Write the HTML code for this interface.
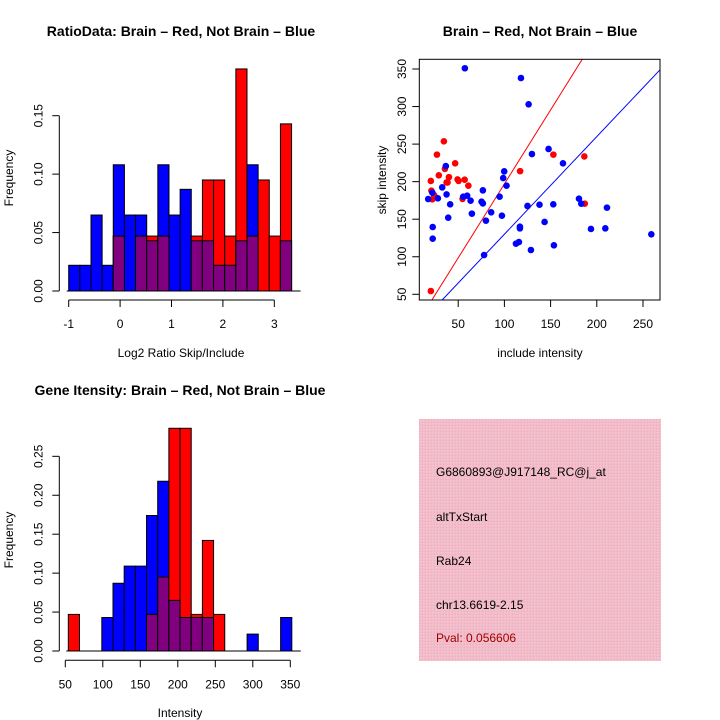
<!DOCTYPE html>
<html><head><meta charset="utf-8"><style>
body{margin:0;background:#fff}
svg{display:block;font-family:"Liberation Sans",sans-serif}
</style></head><body>
<svg id="s" width="720" height="720" xmlns="http://www.w3.org/2000/svg">
<defs>
<pattern id="pk" width="3" height="3" patternUnits="userSpaceOnUse"><rect width="3" height="3" fill="#f2bccb"/><rect width="1" height="1" fill="#e7cdd2"/><rect x="2" y="2" width="1" height="1" fill="#f7a8bb"/></pattern>
</defs>
<g id="h1"></g>
<g id="sc"></g>
<g id="h2"></g>
<g>
<rect x="419" y="419" width="242" height="242" fill="url(#pk)"/>
<g font-size="12" fill="#000">
<text x="436" y="476">G6860893@J917148_RC@j_at</text>
<text x="436" y="521">altTxStart</text>
<text x="436" y="565">Rab24</text>
<text x="436" y="609">chr13.6619-2.15</text>
<text x="436" y="642" fill="#a00000">Pval: 0.056606</text>
</g></g>
</svg>
<script>
// Ratio histogram data
const h1Start=-1, h1Width=0.2168;
const h1Blue=[0.022,0.022,0.065,0.022,0.108,0.065,0.065,0.043,0.108,0.065,0.087,0.043,0.043,0.022,0.022,0.043,0.108,0,0,0.043];
const h1Red=[0,0,0,0,0.047,0,0.047,0.047,0.047,0,0,0.047,0.095,0.095,0.047,0.19,0.047,0.095,0.047,0.143];
const h1XTicks=[-1,0,1,2,3];
const h1YTicks=[0,0.05,0.10,0.15];
const h1YLabels=["0.00","0.05","0.10","0.15"];
// Gene intensity histogram data
const h2Start=54, h2Width=14.9;
const h2Blue=[0,0,0,0.043,0.087,0.109,0.109,0.174,0.218,0.065,0.043,0.043,0.043,0,0,0,0.0217,0,0,0.043];
const h2Red=[0.047,0,0,0,0,0,0,0.047,0.095,0.286,0.286,0.047,0.142,0.047,0,0,0,0,0,0];
const h2XTicks=[50,100,150,200,250,300,350];
const h2YTicks=[0,0.05,0.10,0.15,0.20,0.25];
const h2YLabels=["0.00","0.05","0.10","0.15","0.20","0.25"];
// Scatter data
const redX=[20.4,20.4,21,22,24,27,34.5,35.6,29,37.4,40,46.7,49.3,50.4,54.7,57,61,117,153,186.5,187,38.5];
const redY=[54.4,200.9,188,176.5,182,236,253.7,217,208.4,199,206,224.4,203,201,177,202.6,194.6,214,236,233.6,170.7,199];
const blueX=[17.5,22,22.4,22.4,28,32.7,36.6,37.4,39.2,41.3,57.2,55.4,59.7,63.4,64.8,75.3,76.7,76.7,80,78,85.7,94.8,97.3,98.7,99.8,102.3,112.5,115.7,116.8,116.8,117.9,125,126.2,128.7,129.8,138,143.5,147.8,152.9,153.6,163.4,180.7,183.2,193.7,209.2,211,259];
const blueY=[176.9,185.3,139.6,124,177.8,192.4,220.8,183,152,169.8,351,180,181.3,174.7,157.4,173.3,171,188.4,148,102.3,159.2,180,154.7,204.8,213.7,194.6,117.4,119.6,140,137.8,338,167.6,303,109,236.8,169.3,146.3,243.5,169.8,115.2,224.4,177.3,170.7,137,137.8,165.4,129.9];
const redSlope=1.97, blueSlope=1.30;
const scXTicks=[50,100,150,200,250];
const scYTicks=[50,100,150,200,250,300,350];

const NS="http://www.w3.org/2000/svg";
function mk(p,t,a){const e=document.createElementNS(NS,t);for(const k in a)e.setAttribute(k,a[k]);p.appendChild(e);return e;}

function hist(g,o){
  const sx=v=>o.x0+(v-o.d0)*o.kx, sy=v=>o.y0-v*o.ky;
  for(let i=0;i<o.blue.length;i++){
    const a=o.start+i*o.w,b=a+o.w;
    const x=sx(a),w=sx(b)-sx(a);
    const bl=o.blue[i],rd=o.red[i],mn=Math.min(bl,rd);
    if(bl>0){const r=mk(g,'rect',{x:x,y:sy(bl),width:w,height:sy(0)-sy(bl),fill:'#0000ff',stroke:'#000','stroke-width':1});
      
      }
    if(rd>0){const r=mk(g,'rect',{x:x,y:sy(rd),width:w,height:sy(0)-sy(rd),fill:'#ff0000',stroke:'#000','stroke-width':1});
      
      }
    if(mn>0){const r=mk(g,'rect',{x:x,y:sy(mn),width:w,height:sy(0)-sy(mn),fill:'#800080',stroke:'#000','stroke-width':1});
      
      }
  }
  // baseline
  mk(g,'line',{x1:sx(o.start)-2,x2:sx(o.start+o.w*o.blue.length)+9,y1:sy(0),y2:sy(0),stroke:'#000'});
  // y axis
  const ya=o.yTicks;
  mk(g,'line',{x1:o.yax,x2:o.yax,y1:sy(ya[0]),y2:sy(ya[ya.length-1]),stroke:'#000'});
  ya.forEach((v,i)=>{mk(g,'line',{x1:o.yax-7,x2:o.yax,y1:sy(v),y2:sy(v),stroke:'#000'});
    const t=mk(g,'text',{x:o.yax-17,y:sy(v),'font-size':12,'text-anchor':'middle',transform:`rotate(-90 ${o.yax-17} ${sy(v)})`});
    t.textContent=o.yLabels[i];
    
    });
  const xt=o.xTicks;
  mk(g,'line',{x1:sx(xt[0]),x2:sx(xt[xt.length-1]),y1:o.xax,y2:o.xax,stroke:'#000'});
  xt.forEach(v=>{mk(g,'line',{x1:sx(v),x2:sx(v),y1:o.xax,y2:o.xax+7,stroke:'#000'});
    const t=mk(g,'text',{x:sx(v),y:o.xax+28,'font-size':12,'text-anchor':'middle'});
    t.textContent=String(v);
    
    });
}
const h1=document.getElementById('h1');
hist(h1,{x0:68.7,d0:-1,kx:51.4,y0:291,ky:1168.7,start:h1Start,w:h1Width,blue:h1Blue,red:h1Red,yTicks:h1YTicks,yLabels:h1YLabels,xTicks:h1XTicks,yax:59.3,xax:300});
const h2=document.getElementById('h2');
hist(h2,{x0:65.3,d0:50,kx:0.75,y0:651,ky:778.7,start:h2Start,w:h2Width,blue:h2Blue,red:h2Red,yTicks:h2YTicks,yLabels:h2YLabels,xTicks:h2XTicks,yax:59.3,xax:660.3});

// scatter
const sc=document.getElementById('sc');
const px=v=>412+v*0.924, py=v=>294.3-(v-50)*0.751;
mk(sc,'defs',{}).innerHTML='<clipPath id="cp"><rect x="419.3" y="59.3" width="240.7" height="240.7"/></clipPath>';
const lg=mk(sc,'g',{'clip-path':'url(#cp)'});
let l=mk(lg,'line',{x1:px(0),y1:py(0),x2:px(300),y2:py(300*redSlope),stroke:'#ff0000','stroke-width':1});


l=mk(lg,'line',{x1:px(0),y1:py(0),x2:px(300),y2:py(300*blueSlope),stroke:'#0000ff','stroke-width':1});


redX.forEach((v,i)=>{const c=mk(lg,'circle',{cx:px(v),cy:py(redY[i]),r:3.3,fill:'#ff0000'});
  
  });
blueX.forEach((v,i)=>{const c=mk(lg,'circle',{cx:px(v),cy:py(blueY[i]),r:3.3,fill:'#0000ff'});
  
  });
mk(sc,'rect',{x:419.3,y:59.3,width:240.7,height:240.7,fill:'none',stroke:'#000'});
scXTicks.forEach(v=>{mk(sc,'line',{x1:px(v),x2:px(v),y1:300,y2:307,stroke:'#000'});
  const t=mk(sc,'text',{x:px(v),y:328,'font-size':12,'text-anchor':'middle'});t.textContent=v;
  
  });
scYTicks.forEach(v=>{mk(sc,'line',{x1:412.3,x2:419.3,y1:py(v),y2:py(v),stroke:'#000'});
  const t=mk(sc,'text',{x:406,y:py(v),'font-size':12,'text-anchor':'middle',transform:`rotate(-90 406 ${py(v)})`});t.textContent=v;
  
  });
</script>
<svg width="720" height="720" style="position:absolute;left:0;top:0" xmlns="http://www.w3.org/2000/svg">
<g font-weight="bold" font-size="14" text-anchor="middle">
<text x="181" y="36">RatioData: Brain – Red, Not Brain – Blue</text>
<text x="540" y="36">Brain – Red, Not Brain – Blue</text>
<text x="180" y="395">Gene Itensity: Brain – Red, Not Brain – Blue</text>
</g>
<g font-size="12" text-anchor="middle">
<text x="181" y="357">Log2 Ratio Skip/Include</text>
<text x="540" y="357">include intensity</text>
<text x="180" y="717">Intensity</text>
<text x="13" y="178" transform="rotate(-90 13 178)">Frequency</text>
<text x="13" y="540" transform="rotate(-90 13 540)">Frequency</text>
<text x="386" y="180" transform="rotate(-90 386 180)">skip intensity</text>
</g>
</svg>
</body></html>
